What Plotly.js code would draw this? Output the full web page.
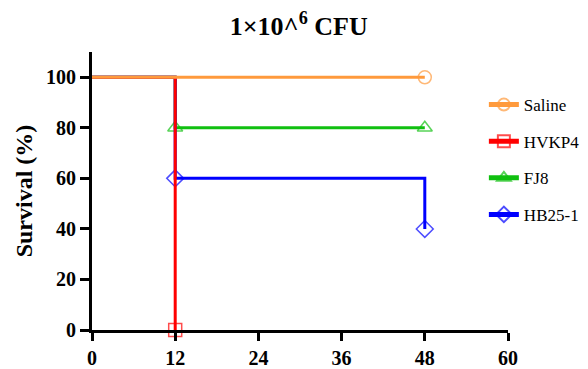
<!DOCTYPE html>
<html><head><meta charset="utf-8">
<script src="https://cdn.plot.ly/plotly-3.0.1.min.js"></script>
<style>html,body{margin:0;padding:0;background:#fff}#c{width:588px;height:369px}</style>
</head><body><div id="c"></div>
<script>
const seriesNames = ["Saline", "HVKP4", "FJ8", "HB25-1"];
const timeSaline = [0, 48];
const survSaline = [100, 100];
const timeHVKP4 = [0, 12];
const survHVKP4 = [100, 0];
const timeFJ8 = [0, 12, 48];
const survFJ8 = [100, 80, 80];
const timeHB = [0, 12, 48];
const survHB = [100, 60, 40];
const xTicks = [0, 12, 24, 36, 48, 60];
const yTicks = [0, 20, 40, 60, 80, 100];

const colors = {"Saline":"#FF9A3C","HVKP4":"#FF0000","FJ8":"#10C010","HB25-1":"#0000FF"};
const symbols = {"Saline":"circle-open","HVKP4":"square-open","FJ8":"triangle-up-open","HB25-1":"diamond-open"};
const ranks = {"Saline":1,"HVKP4":2,"FJ8":3,"HB25-1":4};

function mk(name, xs, ys){
  return {
    type:'scatter', mode:'lines+markers', name:name, x:xs, y:ys,
    line:{shape:'hv', color:colors[name], width:3},
    marker:{symbol:symbols[name], color:colors[name], size:xs.map((v,i)=> i===0?0:13), line:{width:1.5, color:colors[name]}},
    cliponaxis:false, legendrank:ranks[name], legendgroup:name
  };
}
const data = [
  mk("FJ8", timeFJ8, survFJ8),
  mk("HB25-1", timeHB, survHB),
  mk("HVKP4", timeHVKP4, survHVKP4),
  mk("Saline", timeSaline, survSaline)
];
const serif = '"Liberation Serif", "Times New Roman", serif';
const tickFont = {family:serif, size:20, color:'#000', weight:'bold'};
const layout = {
  width:588, height:369,
  margin:{l:92, r:80, t:52, b:39, autoexpand:false},
  paper_bgcolor:'#fff', plot_bgcolor:'#fff',
  title:{text:'1×10^<sup>6</sup> CFU', x:0.508, xanchor:'center', y:0.93, yanchor:'middle',
    font:{family:serif, size:26, color:'#000', weight:'bold'}},
  xaxis:{range:[0,60], tickvals:xTicks, ticktext:xTicks.map(String), showgrid:false, zeroline:false,
    showline:true, linecolor:'#000', linewidth:3, ticks:'outside', ticklen:8, tickwidth:3, tickcolor:'#000',
    tickfont:tickFont},
  yaxis:{range:[0,110], tickvals:yTicks, ticktext:yTicks.map(String), showgrid:false, zeroline:false,
    showline:true, linecolor:'#000', linewidth:3, ticks:'outside', ticklen:9, tickwidth:3, tickcolor:'#000',
    tickfont:tickFont,
    title:{text:'Survival (%)', standoff:7, font:{family:serif, size:24, color:'#000', weight:'bold'}}},
  legend:{x:0.942, xanchor:'left', y:0.874, yanchor:'top', tracegroupgap:11.5, itemsizing:'constant',
    font:{family:serif, size:17, color:'#000'}, bgcolor:'rgba(0,0,0,0)'},
  showlegend:true
};
Plotly.newPlot('c', data, layout, {displayModeBar:false, staticPlot:true});
</script></body></html>
